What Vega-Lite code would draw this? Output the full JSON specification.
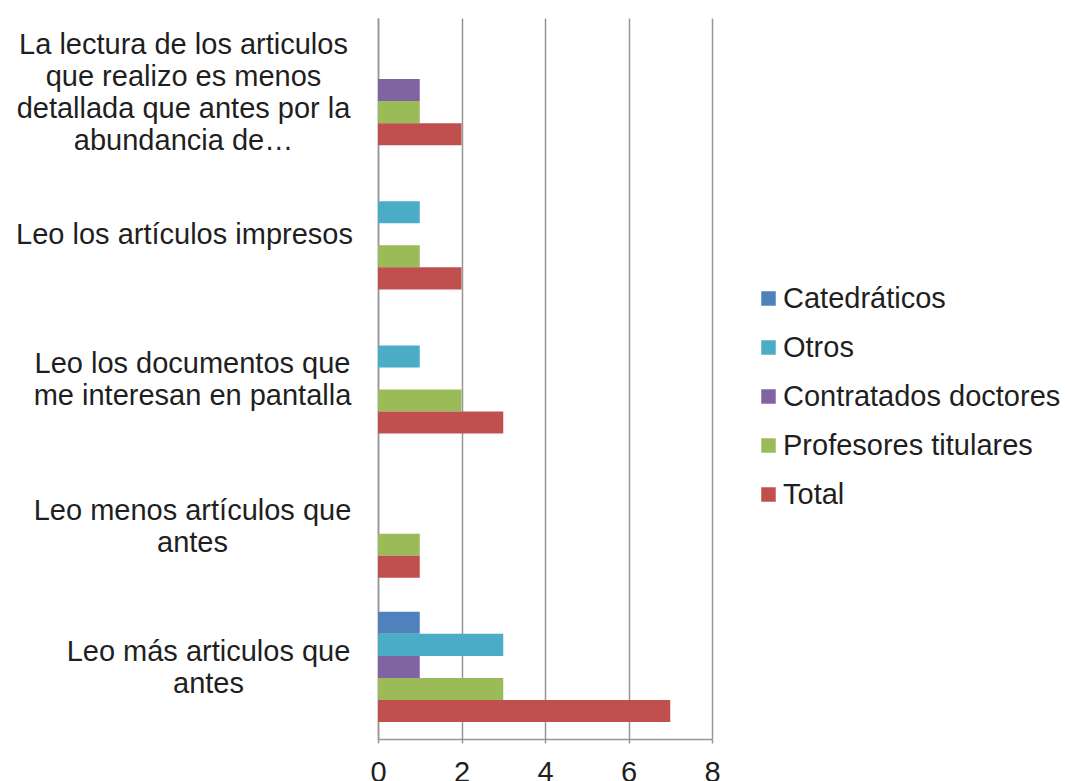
{
  "$schema": "https://vega.github.io/schema/vega-lite/v6.json",
  "autosize": "none",
  "width": 334,
  "height": 721,
  "padding": {"left": 378, "top": 18, "right": 353, "bottom": 42},
  "background": "white",
  "config": {
    "view": {"stroke": null},
    "font": "Liberation Sans"
  },
  "data": {
    "values": [
      {"pregunta": "La lectura de los articulos|que realizo es menos|detallada que antes por la|abundancia de…", "grupo": "Catedráticos", "valor": 0},
      {"pregunta": "La lectura de los articulos|que realizo es menos|detallada que antes por la|abundancia de…", "grupo": "Otros", "valor": 0},
      {"pregunta": "La lectura de los articulos|que realizo es menos|detallada que antes por la|abundancia de…", "grupo": "Contratados doctores", "valor": 1},
      {"pregunta": "La lectura de los articulos|que realizo es menos|detallada que antes por la|abundancia de…", "grupo": "Profesores titulares", "valor": 1},
      {"pregunta": "La lectura de los articulos|que realizo es menos|detallada que antes por la|abundancia de…", "grupo": "Total", "valor": 2},
      {"pregunta": "Leo los artículos impresos", "grupo": "Catedráticos", "valor": 0},
      {"pregunta": "Leo los artículos impresos", "grupo": "Otros", "valor": 1},
      {"pregunta": "Leo los artículos impresos", "grupo": "Contratados doctores", "valor": 0},
      {"pregunta": "Leo los artículos impresos", "grupo": "Profesores titulares", "valor": 1},
      {"pregunta": "Leo los artículos impresos", "grupo": "Total", "valor": 2},
      {"pregunta": "Leo los documentos que|me interesan en pantalla", "grupo": "Catedráticos", "valor": 0},
      {"pregunta": "Leo los documentos que|me interesan en pantalla", "grupo": "Otros", "valor": 1},
      {"pregunta": "Leo los documentos que|me interesan en pantalla", "grupo": "Contratados doctores", "valor": 0},
      {"pregunta": "Leo los documentos que|me interesan en pantalla", "grupo": "Profesores titulares", "valor": 2},
      {"pregunta": "Leo los documentos que|me interesan en pantalla", "grupo": "Total", "valor": 3},
      {"pregunta": "Leo menos artículos que|antes", "grupo": "Catedráticos", "valor": 0},
      {"pregunta": "Leo menos artículos que|antes", "grupo": "Otros", "valor": 0},
      {"pregunta": "Leo menos artículos que|antes", "grupo": "Contratados doctores", "valor": 0},
      {"pregunta": "Leo menos artículos que|antes", "grupo": "Profesores titulares", "valor": 1},
      {"pregunta": "Leo menos artículos que|antes", "grupo": "Total", "valor": 1},
      {"pregunta": "Leo más articulos que|antes", "grupo": "Catedráticos", "valor": 1},
      {"pregunta": "Leo más articulos que|antes", "grupo": "Otros", "valor": 3},
      {"pregunta": "Leo más articulos que|antes", "grupo": "Contratados doctores", "valor": 1},
      {"pregunta": "Leo más articulos que|antes", "grupo": "Profesores titulares", "valor": 3},
      {"pregunta": "Leo más articulos que|antes", "grupo": "Total", "valor": 7}
    ]
  },
  "mark": {"type": "bar"},
  "encoding": {
    "y": {
      "field": "pregunta",
      "type": "nominal",
      "sort": null,
      "scale": {"paddingInner": 0.236, "paddingOuter": 0.118},
      "axis": {
        "title": null,
        "labelExpr": "split(datum.label, '|')",
        "labelFontSize": 29,
        "labelColor": "#1f1f1f",
        "labelLineHeight": 32,
        "labelAlign": "center",
        "labelPadding": {
          "condition": [
            {"test": "indexof(datum.value, 'La lectura') == 0", "value": 195},
            {"test": "indexof(datum.value, 'Leo los art') == 0", "value": 194},
            {"test": "indexof(datum.value, 'Leo los doc') == 0", "value": 186},
            {"test": "indexof(datum.value, 'Leo menos') == 0", "value": 186},
            {"test": "indexof(datum.value, 'Leo m') == 0", "value": 170}
          ],
          "value": 190
        },
        "labelOffset": {
          "condition": [
            {"test": "indexof(datum.value, 'La lectura') == 0", "value": -45},
            {"test": "indexof(datum.value, 'Leo los art') == 0", "value": 1},
            {"test": "indexof(datum.value, 'Leo los doc') == 0", "value": -15},
            {"test": "indexof(datum.value, 'Leo menos') == 0", "value": -12},
            {"test": "indexof(datum.value, 'Leo m') == 0", "value": -15}
          ],
          "value": 0
        },
        "labelLimit": 400,
        "ticks": false,
        "domainColor": "#969696",
        "domainWidth": 1.5
      }
    },
    "yOffset": {
      "field": "grupo",
      "type": "nominal",
      "sort": ["Catedráticos", "Otros", "Contratados doctores", "Profesores titulares", "Total"],
      "scale": {"paddingInner": 0, "paddingOuter": 0}
    },
    "x": {
      "field": "valor",
      "type": "quantitative",
      "scale": {"domain": [0, 8], "nice": false},
      "axis": {
        "title": null,
        "values": [0, 2, 4, 6, 8],
        "labelFontSize": 29,
        "labelColor": "#1f1f1f",
        "labelPadding": 15,
        "tickSize": 4,
        "tickColor": "#969696",
        "tickWidth": 1.5,
        "domainColor": "#969696",
        "domainWidth": 1.5,
        "grid": true,
        "gridColor": "#969696",
        "gridWidth": 1.5,
        "labelFlush": false
      }
    },
    "color": {
      "field": "grupo",
      "type": "nominal",
      "sort": ["Catedráticos", "Otros", "Contratados doctores", "Profesores titulares", "Total"],
      "scale": {
        "domain": ["Catedráticos", "Otros", "Contratados doctores", "Profesores titulares", "Total"],
        "range": ["#4F81BD", "#4BACC6", "#8064A2", "#9BBB59", "#C0504D"]
      },
      "legend": {
        "title": null,
        "orient": "none",
        "legendX": 376,
        "legendY": 266,
        "symbolType": "square",
        "symbolSize": 210,
        "symbolStrokeWidth": 0,
        "labelFontSize": 29,
        "labelColor": "#1f1f1f",
        "labelOffset": 0,
        "rowPadding": 19,
        "labelLimit": 400
      }
    }
  }
}
